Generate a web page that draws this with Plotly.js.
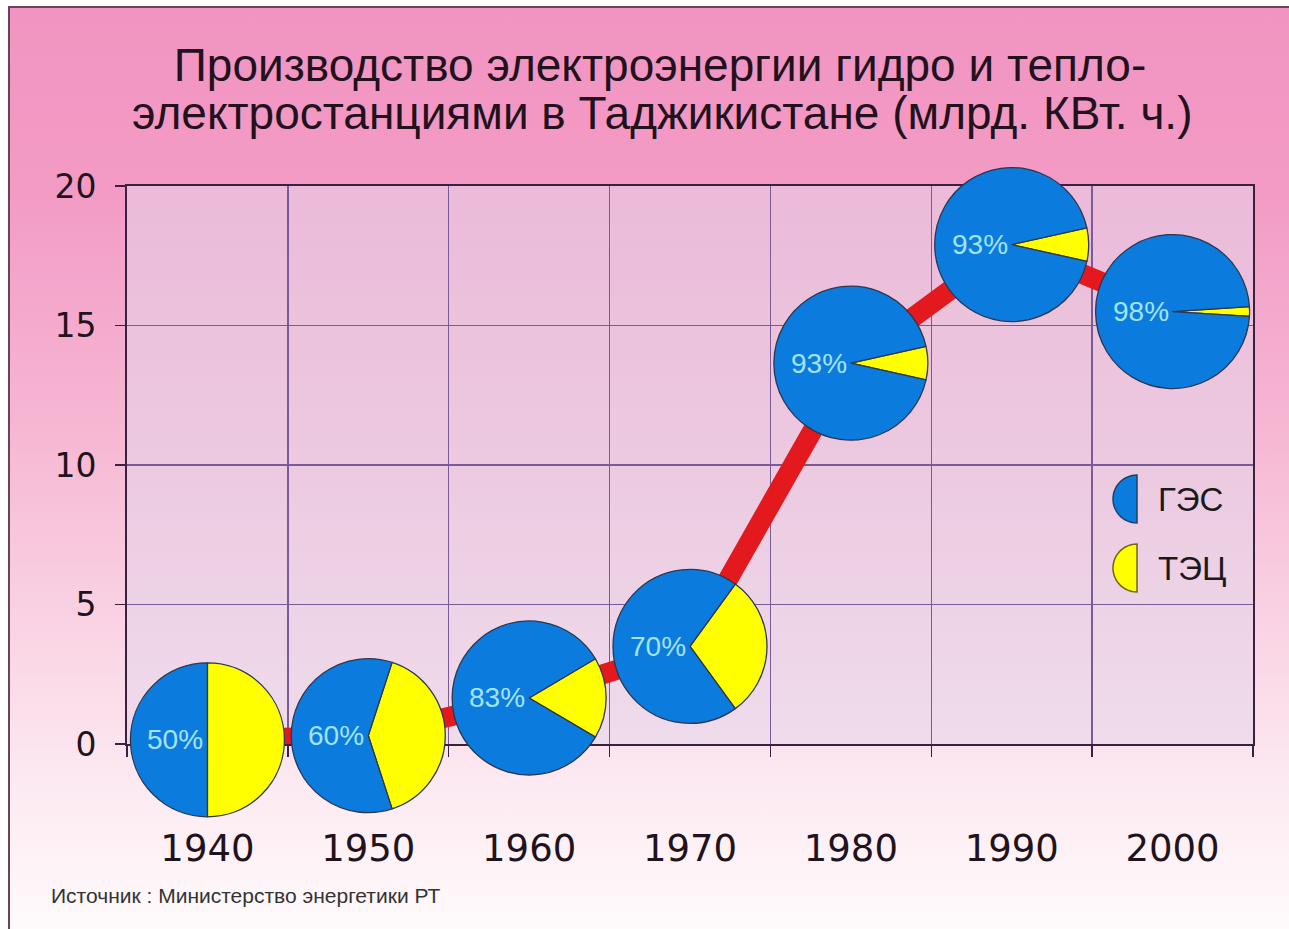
<!DOCTYPE html>
<html>
<head>
<meta charset="utf-8">
<script src="https://cdn.plot.ly/plotly-3.0.1.min.js"></script>
<style>
html, body { margin:0; padding:0; background:#ffffff; width:1289px; height:929px; overflow:hidden; }
#bg { position:absolute; left:8px; top:6px; width:1281px; height:923px;
      border-left:2px solid #6a4356; border-top:2px solid #6a4356; box-sizing:border-box;
      background:linear-gradient(to bottom, #F194C1 0%, #F39BC5 20%, #F6B6D3 45%, #FAD7E6 70%, #FDEEF4 88%, #FFFAFC 100%); }
#chart { position:absolute; left:0; top:0; width:1289px; height:929px; }
</style>
</head>
<body>
<div id="bg"></div>
<div id="chart"></div>
<script>
// ---- data ----
const years = ['1940', '1950', '1960', '1970', '1980', '1990', '2000'];
const production = [0.15, 0.3, 1.65, 3.5, 13.65, 17.9, 15.5];   // млрд. кВт·ч
const hydroShare = [50, 60, 83, 70, 93, 93, 98];                   // ГЭС, %
const thermalShare = hydroShare.map(v => 100 - v);                 // ТЭЦ, %
const seriesNames = ['ГЭС', 'ТЭЦ'];
const titleLines = ['Производство электроэнергии гидро и тепло-',
                    'электростанциями в Таджикистане (млрд. КВт. ч.)'];
const sourceText = 'Источник : Министерство энергетики РТ';

// ---- styles ----
const W = 1289, H = 929;
const BLUE = '#0B7CDD', YELLOW = '#FFFF00', RED = '#E3191E';
const GRID = '#7b5a98', AXIS = '#3c2040', TXT = '#22121c';
const px = v => v / W, py = v => 1 - v / H;

const lineTrace = {
  type: 'scatter', mode: 'lines', x: years, y: production,
  line: { color: RED, width: 20 }, hoverinfo: 'skip', showlegend: false
};

const annotations = [];
annotations.push({
  xref: 'paper', yref: 'paper', x: px(662), y: py(113), xanchor: 'center', yanchor: 'middle',
  text: titleLines[1], showarrow: false,
  font: { family: 'Liberation Sans, Arial, sans-serif', size: 46, color: TXT }
});
years.forEach((yr, i) => annotations.push({
  xref: 'x', yref: 'y', x: i, y: production[i], xanchor: 'right', yanchor: 'middle', xshift: -2,
  text: hydroShare[i] + '%', showarrow: false,
  font: { family: 'Liberation Sans, Arial, sans-serif', size: 28, color: '#a2e4f6' }
}));
annotations.push({
  xref: 'paper', yref: 'paper', x: px(49), y: py(895), xanchor: 'left', yanchor: 'middle',
  text: sourceText, showarrow: false,
  font: { family: 'Liberation Sans, Arial, sans-serif', size: 21, color: '#333333' }
});
// legend labels
const legendY = [499, 568];
seriesNames.forEach((n, k) => annotations.push({
  xref: 'paper', yref: 'paper', x: px(1156), y: py(legendY[k]), xanchor: 'left', yanchor: 'middle',
  text: n, showarrow: false,
  font: { family: 'Liberation Sans, Arial, sans-serif', size: 33, color: '#1a1a1a' }
}));

// legend half-circle icons
function halfCircle(cx, cy, r) {
  let d = '';
  for (let a = 0; a <= 180; a += 6) {
    const t = (a - 90) * Math.PI / 180;
    const x = cx - r * Math.cos(t), y = cy + r * Math.sin(t);
    d += (a === 0 ? 'M ' : ' L ') + px(x).toFixed(5) + ',' + py(y).toFixed(5);
  }
  return d + ' Z';
}
const shapes = [
  { type: 'path', xref: 'paper', yref: 'paper', path: halfCircle(1137, legendY[0], 24),
    fillcolor: BLUE, line: { color: '#20406a', width: 1.5 } },
  { type: 'path', xref: 'paper', yref: 'paper', path: halfCircle(1137, legendY[1], 24),
    fillcolor: YELLOW, line: { color: '#6a6420', width: 1.5 } }
];

const layout = {
  width: W, height: H,
  margin: { l: 0, r: 0, t: 0, b: 0 },
  paper_bgcolor: 'rgba(0,0,0,0)',
  plot_bgcolor: 'rgba(228,214,234,0.55)',
  showlegend: false, hovermode: false,
  title: {
    text: titleLines[0], xref: 'paper', yref: 'paper', x: px(660), y: py(65),
    xanchor: 'center', yanchor: 'middle',
    font: { family: 'Liberation Sans, Arial, sans-serif', size: 46, color: TXT }
  },
  xaxis: {
    type: 'category', categoryorder: 'array', categoryarray: years,
    domain: [127 / W, 1253 / W], range: [-0.5, 6.5],
    tickson: 'boundaries', showgrid: true, gridcolor: GRID, gridwidth: 1.5,
    ticks: 'outside', ticklen: 11, tickwidth: 1.5, tickcolor: AXIS,
    showline: true, linecolor: AXIS, linewidth: 2, mirror: true,
    ticklabelstandoff: 71,
    tickfont: { family: 'DejaVu Sans, sans-serif', size: 37, color: TXT },
    fixedrange: true, automargin: false
  },
  yaxis: {
    domain: [(H - 744) / H, (H - 186) / H], range: [0, 20],
    tickmode: 'array', tickvals: [0, 5, 10, 15, 20], ticktext: ['0', '5', '10', '15', '20'],
    showgrid: true, gridcolor: GRID, gridwidth: 1.5, zeroline: false,
    ticks: 'outside', ticklen: 10, tickwidth: 1.5, tickcolor: AXIS,
    showline: true, linecolor: AXIS, linewidth: 2, mirror: true,
    ticklabelstandoff: 12,
    tickfont: { family: 'DejaVu Sans, sans-serif', size: 33, color: TXT },
    fixedrange: true, automargin: false
  },
  annotations: annotations,
  shapes: shapes
};

const gd = document.getElementById('chart');
Plotly.newPlot(gd, [lineTrace], layout, { staticPlot: true, displayModeBar: false }).then(() => {
  const fl = gd._fullLayout, xa = fl.xaxis, ya = fl.yaxis, sz = fl._size;
  const R = 77;
  const pies = years.map((yr, i) => {
    const cx = xa._offset + xa.l2p(i);
    const cy = ya._offset + ya.l2p(production[i]);
    return {
      type: 'pie', sort: false, direction: 'clockwise',
      values: [thermalShare[i], hydroShare[i]], labels: [seriesNames[1], seriesNames[0]],
      rotation: 90 - thermalShare[i] * 1.8,
      marker: { colors: [YELLOW, BLUE], line: { color: '#2e3650', width: 1.3 } },
      textinfo: 'none', hoverinfo: 'none', showlegend: false,
      domain: {
        x: [(cx - R - sz.l) / sz.w, (cx + R - sz.l) / sz.w],
        y: [(sz.t + sz.h - cy - R) / sz.h, (sz.t + sz.h - cy + R) / sz.h]
      }
    };
  });
  return Plotly.addTraces(gd, pies);
});
</script>
</body>
</html>
